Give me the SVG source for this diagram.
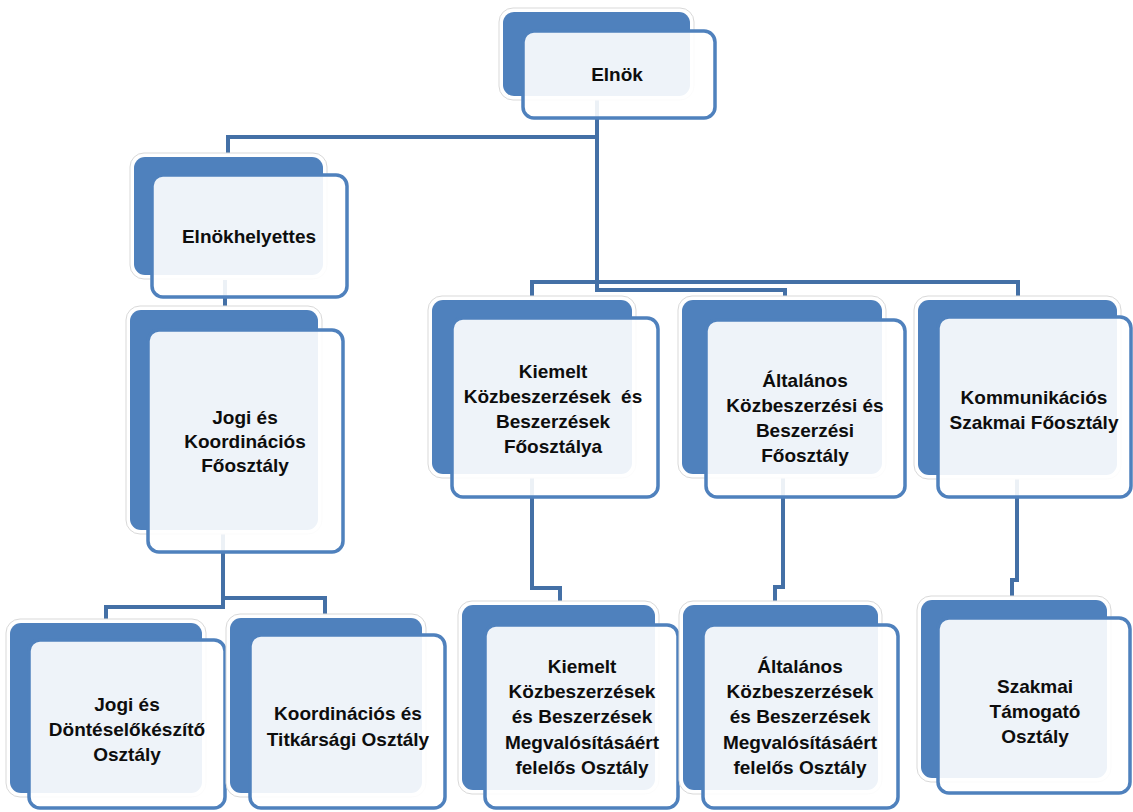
<svg xmlns="http://www.w3.org/2000/svg" width="1133" height="812" viewBox="0 0 1133 812">
<style>
.halo{fill:#ffffff;stroke:#d9d9d9;stroke-width:1}
.back{fill:#4F81BD}
.front{fill:#ffffff;fill-opacity:0.9;stroke:#4F81BD;stroke-width:3.5}
.conn{fill:none;stroke:#4470A6;stroke-width:4;stroke-linejoin:miter}
text{font-family:"Liberation Sans",Arial,sans-serif;font-weight:bold;font-size:19px;fill:#0d0d0d;text-anchor:middle}
.pre{white-space:pre}
</style>
<rect width="1133" height="812" fill="#ffffff"/>
<g id="connectors">
  <path class="conn" d="M597 60 V137 H228 V160"/>
  <path class="conn" d="M597 137 V282 H532 V302"/>
  <path class="conn" d="M597 282 H1018 V302"/>
  <path class="conn" d="M597 282 V290 H785 V305"/>
  <path class="conn" d="M225 280 V312"/>
  <path class="conn" d="M223 500 V598 H325 V614"/>
  <path class="conn" d="M223 598 V607 H106 V626"/>
  <path class="conn" d="M532 470 V588 H560 V606"/>
  <path class="conn" d="M783 470 V587 H775 V606"/>
  <path class="conn" d="M1017 470 V580 H1012 V600"/>
</g>
<g id="n-elnok">
  <rect class="halo" x="499" y="8" width="195" height="92" rx="14"/>
  <rect class="back" x="503" y="12" width="187" height="84" rx="11"/>
  <rect class="front" x="523" y="31" width="192" height="87" rx="11"/>
  <text x="617" y="81">Elnök</text>
</g>
<g id="n-elnokhelyettes">
  <rect class="halo" x="130" y="153" width="197" height="126" rx="14"/>
  <rect class="back" x="134" y="157" width="189" height="118" rx="11"/>
  <rect class="front" x="152" y="175" width="195" height="122" rx="11"/>
  <text x="249" y="243">Elnökhelyettes</text>
</g>
<g id="n-jogi-koord">
  <rect class="halo" x="126" y="306" width="196" height="228" rx="14"/>
  <rect class="back" x="130" y="310" width="188" height="220" rx="11"/>
  <rect class="front" x="148" y="330" width="195" height="222" rx="11"/>
  <text x="245" y="424">Jogi és</text>
  <text x="245" y="448">Koordinációs</text>
  <text x="245" y="472">Főosztály</text>
</g>
<g id="n-kiemelt-fo">
  <rect class="halo" x="428" y="296" width="208" height="182" rx="14"/>
  <rect class="back" x="432" y="300" width="200" height="174" rx="11"/>
  <rect class="front" x="452" y="318" width="206" height="179" rx="11"/>
  <text x="553" y="378">Kiemelt</text>
  <text class="pre" x="553" y="403">Közbeszerzések  és</text>
  <text x="553" y="428">Beszerzések</text>
  <text x="553" y="453">Főosztálya</text>
</g>
<g id="n-altalanos-fo">
  <rect class="halo" x="678" y="296" width="208" height="182" rx="14"/>
  <rect class="back" x="682" y="300" width="200" height="174" rx="11"/>
  <rect class="front" x="706" y="320" width="199" height="177" rx="11"/>
  <text x="805" y="387">Általános</text>
  <text x="805" y="412">Közbeszerzési és</text>
  <text x="805" y="437">Beszerzési</text>
  <text x="805" y="462">Főosztály</text>
</g>
<g id="n-kommunikacios">
  <rect class="halo" x="914" y="296" width="207" height="183" rx="14"/>
  <rect class="back" x="918" y="300" width="199" height="175" rx="11"/>
  <rect class="front" x="938" y="317" width="193" height="180" rx="11"/>
  <text x="1034" y="404">Kommunikációs</text>
  <text x="1034" y="429">Szakmai Főosztály</text>
</g>
<g id="n-jogi-dontes">
  <rect class="halo" x="6" y="619" width="200" height="178" rx="14"/>
  <rect class="back" x="10" y="623" width="192" height="170" rx="11"/>
  <rect class="front" x="29" y="640" width="196" height="168" rx="11"/>
  <text x="127" y="711">Jogi és</text>
  <text x="127" y="736">Döntéselőkészítő</text>
  <text x="127" y="761">Osztály</text>
</g>
<g id="n-koord-titk">
  <rect class="halo" x="226" y="614" width="200" height="183" rx="14"/>
  <rect class="back" x="230" y="618" width="192" height="175" rx="11"/>
  <rect class="front" x="250" y="635" width="195" height="173" rx="11"/>
  <text x="348" y="720">Koordinációs és</text>
  <text x="348" y="746">Titkársági Osztály</text>
</g>
<g id="n-kiemelt-oszt">
  <rect class="halo" x="458" y="601" width="201" height="193" rx="14"/>
  <rect class="back" x="462" y="605" width="193" height="185" rx="11"/>
  <rect class="front" x="485" y="625" width="193" height="183" rx="11"/>
  <text x="582" y="673">Kiemelt</text>
  <text x="582" y="698">Közbeszerzések</text>
  <text x="582" y="723">és Beszerzések</text>
  <text x="582" y="749">Megvalósításáért</text>
  <text x="582" y="774">felelős Osztály</text>
</g>
<g id="n-altalanos-oszt">
  <rect class="halo" x="679" y="601" width="203" height="193" rx="14"/>
  <rect class="back" x="683" y="605" width="195" height="185" rx="11"/>
  <rect class="front" x="703" y="625" width="195" height="183" rx="11"/>
  <text x="800" y="673">Általános</text>
  <text x="800" y="698">Közbeszerzések</text>
  <text x="800" y="723">és Beszerzések</text>
  <text x="800" y="749">Megvalósításáért</text>
  <text x="800" y="774">felelős Osztály</text>
</g>
<g id="n-szakmai-tam">
  <rect class="halo" x="917" y="596" width="194" height="186" rx="14"/>
  <rect class="back" x="921" y="600" width="186" height="178" rx="11"/>
  <rect class="front" x="938" y="618" width="192" height="175" rx="11"/>
  <text x="1035" y="693">Szakmai</text>
  <text x="1035" y="718">Támogató</text>
  <text x="1035" y="743">Osztály</text>
</g>
</svg>
